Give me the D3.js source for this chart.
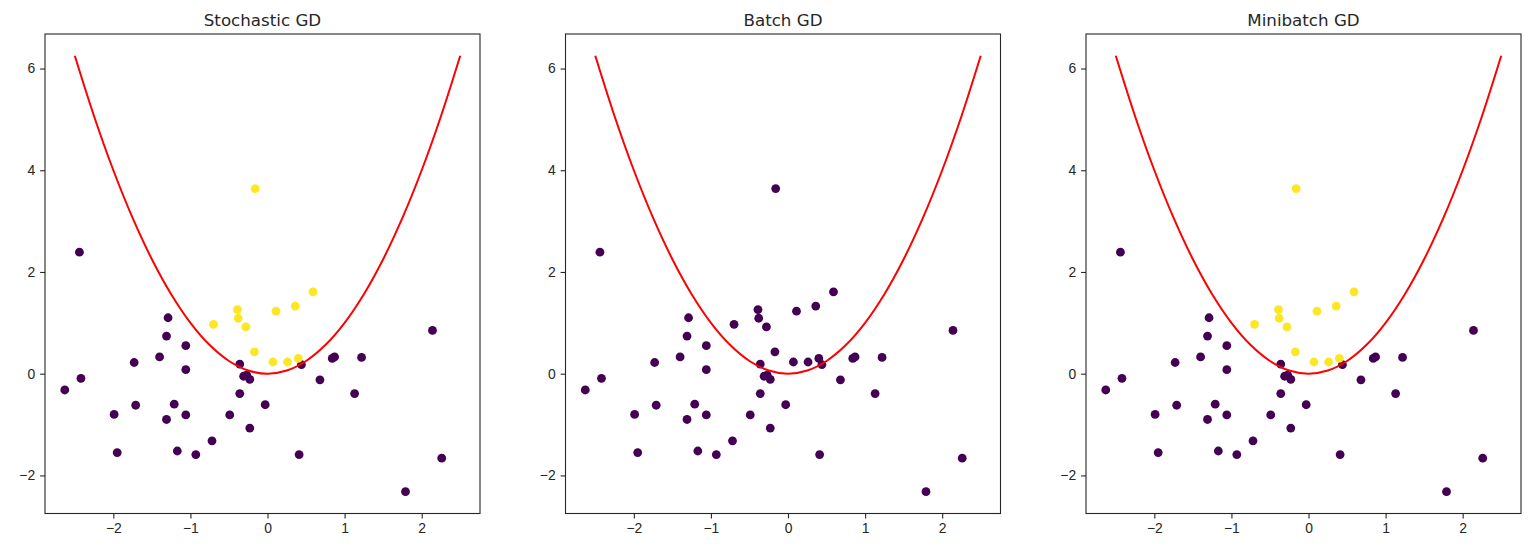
<!DOCTYPE html>
<html>
<head>
<meta charset="utf-8">
<script src="https://cdn.jsdelivr.net/npm/d3@7"></script>
<style>
  body { margin: 0; background: #fff; }
  svg { display: block; font-family: "DejaVu Sans", sans-serif; }
  .tick text { font-size: 13.9px; fill: #262626; }
  .tick line { stroke: #262626; }
  .domain { stroke: none; }
</style>
</head>
<body>
<div id="chart"></div>
<script>
var svgWidth = 1537;
var svgHeight = 547;

// point coordinates
var pointX = [-2.44, -2.42, -2.63, -1.99, -1.95, -1.73, -1.71, -1.40, -1.29, -1.31,
  -1.31, -1.21, -1.17, -1.06, -1.06, -1.06, -0.93, -0.72, -0.49, -0.36,
  -0.36, -0.31, -0.27, -0.23, -0.23, -0.03, 0.41, 0.44, 0.68, 0.84,
  0.87, 1.22, 1.13, 2.14, 2.26, 1.79,
  -0.16, -0.70, -0.39, -0.38, -0.28, -0.17, 0.11, 0.36, 0.59, 0.07, 0.26, 0.40];
var pointY = [2.39, -0.09, -0.32, -0.80, -1.55, 0.22, -0.62, 0.33, 1.10, 0.74,
  -0.90, -0.60, -1.52, 0.55, 0.08, -0.81, -1.59, -1.32, -0.81, 0.19,
  -0.39, -0.05, -0.03, -0.11, -1.07, -0.61, -1.59, 0.18, -0.12, 0.30,
  0.33, 0.32, -0.39, 0.85, -1.66, -2.32,
  3.64, 0.97, 1.26, 1.09, 0.92, 0.43, 1.23, 1.33, 1.61, 0.23, 0.23, 0.30];

// predicted class per panel (0 = purple, 1 = yellow)
var predStochastic = [0, 0, 0, 0, 0, 0, 0, 0, 0, 0, 0, 0, 0, 0, 0, 0, 0, 0, 0, 0,
  0, 0, 0, 0, 0, 0, 0, 0, 0, 0, 0, 0, 0, 0, 0, 0,
  1, 1, 1, 1, 1, 1, 1, 1, 1, 1, 1, 1];
var predBatch = [0, 0, 0, 0, 0, 0, 0, 0, 0, 0, 0, 0, 0, 0, 0, 0, 0, 0, 0, 0,
  0, 0, 0, 0, 0, 0, 0, 0, 0, 0, 0, 0, 0, 0, 0, 0,
  0, 0, 0, 0, 0, 0, 0, 0, 0, 0, 0, 0];
var predMinibatch = [0, 0, 0, 0, 0, 0, 0, 0, 0, 0, 0, 0, 0, 0, 0, 0, 0, 0, 0, 0,
  0, 0, 0, 0, 0, 0, 0, 0, 0, 0, 0, 0, 0, 0, 0, 0,
  1, 1, 1, 1, 1, 1, 1, 1, 1, 1, 1, 1];

// red boundary curve
var curveX = [-2.5, -2.25, -2, -1.75, -1.5, -1.25, -1, -0.75, -0.5, -0.25, 0,
  0.25, 0.5, 0.75, 1, 1.25, 1.5, 1.75, 2, 2.25, 2.5];
var curveY = [6.25, 5.0625, 4, 3.0625, 2.25, 1.5625, 1, 0.5625, 0.25, 0.0625, 0,
  0.0625, 0.25, 0.5625, 1, 1.5625, 2.25, 3.0625, 4, 5.0625, 6.25];

var titles = ["Stochastic GD", "Batch GD", "Minibatch GD"];
var preds = [predStochastic, predBatch, predMinibatch];
var xTicks = [-2, -1, 0, 1, 2];
var yTicks = [-2, 0, 2, 4, 6];

var panelLefts = [45, 565.5, 1086];
var panelTop = 34;
var panelW = 435;
var panelH = 479.5;

var colors = ["#440154", "#fde725"];

var svg = d3.select("#chart")
  .append("svg")
  .attr("width", svgWidth)
  .attr("height", svgHeight);

var allX = pointX.concat(curveX);
var allY = pointY.concat(curveY);
var xMin = d3.min(allX), xMax = d3.max(allX);
var yMin = d3.min(allY), yMax = d3.max(allY);
var xPad = (xMax - xMin) * 0.05;
var yPad = (yMax - yMin) * 0.05;

var fmt = function (d) { return d < 0 ? "\u2212" + Math.abs(d) : "" + d; };

var curvePts = curveX.map(function (d, i) { return [d, curveY[i]]; });

titles.forEach(function (title, p) {
  var chart = svg.append("g")
    .attr("transform", `translate(${panelLefts[p]}, ${panelTop})`);

  var xscale = d3.scaleLinear().domain([xMin - xPad, xMax + xPad]).range([0, panelW]);
  var yscale = d3.scaleLinear().domain([yMin - yPad, yMax + yPad]).range([panelH, 0]);

  var line = d3.line()
    .x(function (d) { return xscale(d[0]); })
    .y(function (d) { return yscale(d[1]); })
    .curve(d3.curveCatmullRom);

  // points: purple first, yellow on top
  var idx = d3.range(pointX.length).sort(function (a, b) { return preds[p][a] - preds[p][b]; });
  chart.selectAll("circle")
    .data(idx)
    .enter()
    .append("circle")
    .attr("cx", function (i) { return xscale(pointX[i]); })
    .attr("cy", function (i) { return yscale(pointY[i]); })
    .attr("r", 4.4)
    .attr("fill", function (i) { return colors[preds[p][i]]; });

  chart.append("path")
    .datum(curvePts)
    .attr("d", line)
    .attr("fill", "none")
    .attr("stroke", "#ff0000")
    .attr("stroke-width", 2);

  chart.append("g")
    .attr("transform", `translate(0, ${panelH})`)
    .call(d3.axisBottom(xscale).tickValues(xTicks).tickFormat(fmt).tickSizeInner(4.9).tickSizeOuter(0).tickPadding(4.9))
    .selectAll("line").attr("stroke-width", 1.1);

  chart.append("g")
    .call(d3.axisLeft(yscale).tickValues(yTicks).tickFormat(fmt).tickSizeInner(4.9).tickSizeOuter(0).tickPadding(4.9))
    .selectAll("line").attr("stroke-width", 1.1);

  chart.append("rect")
    .attr("x", 0)
    .attr("y", 0)
    .attr("width", panelW)
    .attr("height", panelH)
    .attr("fill", "none")
    .attr("stroke", "#262626")
    .attr("stroke-width", 1.1);

  chart.append("text")
    .attr("x", panelW / 2)
    .attr("y", -8)
    .attr("text-anchor", "middle")
    .attr("font-size", "16.7px")
    .attr("fill", "#262626")
    .text(title);
});
</script>
</body>
</html>
